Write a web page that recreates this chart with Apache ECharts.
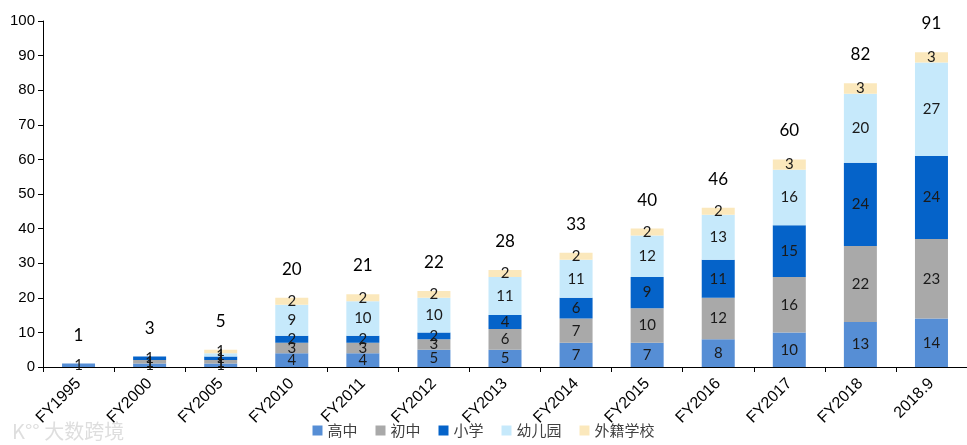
<!DOCTYPE html>
<html>
<head>
<meta charset="utf-8">
<script src="https://cdn.jsdelivr.net/npm/echarts@6/dist/echarts.min.js"></script>
<style>html,body{margin:0;padding:0;background:#fff;}#c{width:967px;height:445px;}</style>
</head>
<body>
<div id="c"></div>
<script>
const categories = ['FY1995','FY2000','FY2005','FY2010','FY2011','FY2012','FY2013','FY2014','FY2015','FY2016','FY2017','FY2018','2018.9'];
const gaozhong = [1,1,1,4,4,5,5,7,7,8,10,13,14];
const chuzhong = [0,1,1,3,3,3,6,7,10,12,16,22,23];
const xiaoxue  = [0,1,1,2,2,2,4,6,9,11,15,24,24];
const youeryuan= [0,0,1,9,10,10,11,11,12,13,16,20,27];
const waiji    = [0,0,1,2,2,2,2,2,2,2,3,3,3];
const totals   = [1,3,5,20,21,22,28,33,40,46,60,82,91];
const yTicks = {min:0, max:100, interval:10};

const names = ['高中','初中','小学','幼儿园','外籍学校'];
const colors = ['#568ED5','#A9A9A9','#0563C9','#C6E9FB','#FBE8BC'];
const seriesData = [gaozhong, chuzhong, xiaoxue, youeryuan, waiji];
const labelFont = 'Lato, "Liberation Sans", sans-serif';

const series = seriesData.map((d, i) => ({
  name: names[i], type: 'bar', stack: 'total', data: d, barWidth: 33,
  itemStyle: {color: colors[i]},
  label: {show: true, position: 'inside', color: '#1a1a1a', fontSize: 15, fontFamily: labelFont,
    formatter: p => p.value ? String(p.value) : ''}
}));
series.push({
  name: '合计', type: 'bar', stack: 'total', data: totals.map(() => 0), barWidth: 33,
  itemStyle: {color: 'transparent'},
  label: {show: true, position: 'top', distance: 20, color: '#000', fontSize: 17, fontFamily: labelFont,
    formatter: p => String(totals[p.dataIndex])}
});

const chart = echarts.init(document.getElementById('c'));
chart.setOption({
  animation: false,
  backgroundColor: '#fff',
  grid: {left: 43, right: -4, top: 21, bottom: 78},
  legend: {data: names, bottom: 2, left: 'center', itemWidth: 10, itemHeight: 10, itemGap: 18,
    icon: 'rect', textStyle: {fontSize: 15, color: '#404040', fontFamily: '"Noto Sans CJK SC", sans-serif'}},
  xAxis: {type: 'category', data: categories,
    axisLine: {lineStyle: {color: '#000'}}, axisTick: {show: true, lineStyle: {color: '#000'}},
    axisLabel: {rotate: 45, color: '#000', fontSize: 16, fontFamily: '"Liberation Sans", Arial, sans-serif', interval: 0, margin: 14, padding: [0, 0, 0, 0]}},
  yAxis: {type: 'value', min: yTicks.min, max: yTicks.max, interval: yTicks.interval,
    axisLine: {show: true, lineStyle: {color: '#000'}}, axisTick: {show: true, lineStyle: {color: '#000'}},
    splitLine: {show: false},
    axisLabel: {color: '#000', fontSize: 15, fontFamily: '"Liberation Sans", Arial, sans-serif', margin: 8}},
  graphic: [{type: 'text', left: 12, bottom: 4, style: {text: 'K°° 大数跨境', fill: 'rgba(200,200,200,0.6)', fontSize: 20, fontFamily: '"Noto Sans CJK SC", sans-serif'}}],
  series: series
});
</script>
</body>
</html>
